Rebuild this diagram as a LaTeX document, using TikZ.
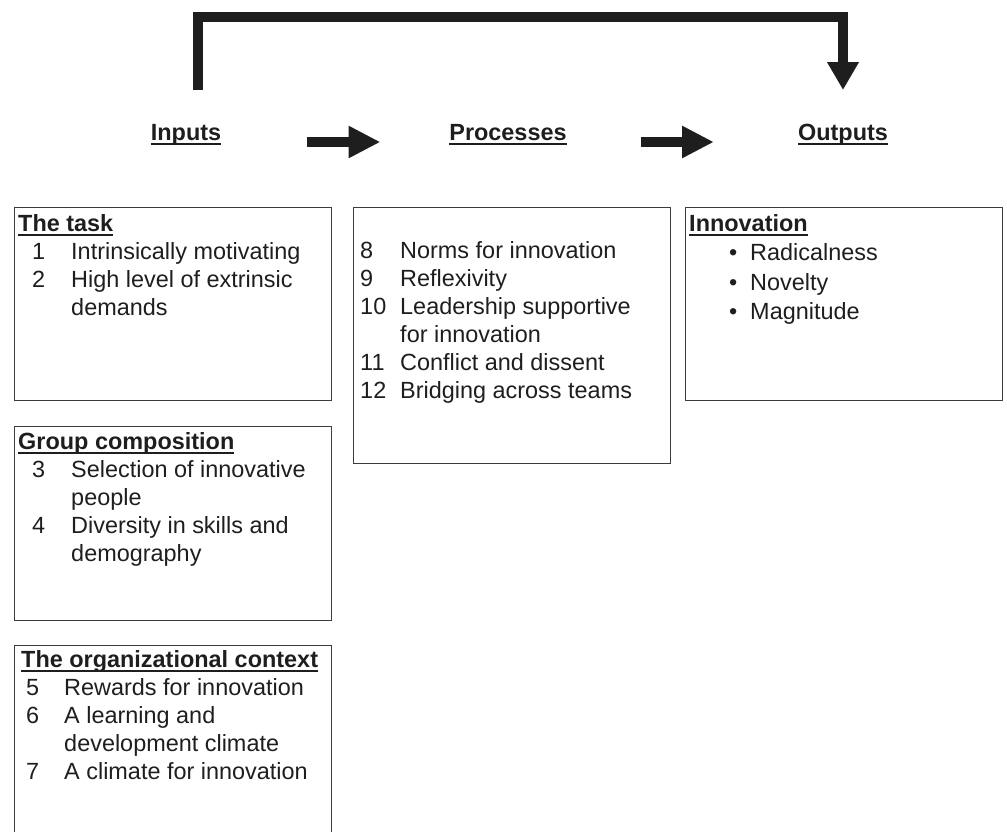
\documentclass[tikz,border=0pt]{standalone}
\usepackage{fontspec}
\setmainfont{Liberation Sans}
\usetikzlibrary{arrows.meta}
\definecolor{boxgray}{RGB}{60,60,60}
\definecolor{inkblack}{RGB}{30,30,30}
\newlength{\pxunit}
\setlength{\pxunit}{0.03cm}
% bold heading with a close underline
\newcommand{\headtext}[1]{\setbox0=\hbox{\bfseries #1}\rlap{\rule[-4.3pt]{\wd0}{1.9pt}}\box0}

\begin{document}
\begin{tikzpicture}[x=0.03cm, y=-0.03cm,
  box/.style={draw=boxgray, line width=1.2pt, anchor=north west, inner sep=0pt, minimum width=9.51cm},
  heading/.style={font=\fontsize{20}{24}\selectfont, text=inkblack, inner sep=0pt, anchor=base},
  itemlist/.style={font=\fontsize{20}{24}\selectfont, text=inkblack, inner sep=0pt, anchor=base west},
  flow/.style={draw=inkblack, line width=8.1pt, -{Triangle[length=27pt,width=25.6pt]}},
  feedback/.style={draw=inkblack, line width=8.1pt, line join=miter, -{Triangle[length=23.9pt,width=25.6pt]}}]

  \useasboundingbox (0,0) rectangle (1007,831);
  \clip (0,0) rectangle (1007,831);

  % headings
  \node[heading] (inputs) at (186,140) {\headtext{Inputs}};
  \node[heading] (processes) at (508,140) {\headtext{Processes}};
  \node[heading] (outputs) at (843,140) {\headtext{Outputs}};

  % arrows between headings
  \draw[flow] (inputs.base east) ++(86,2) -- ++(73,0);
  \draw[flow] (processes.base east) ++(74,2) -- ++(73,0);

  % feedback from inputs to outputs
  \coordinate (fbstart) at (198,90);
  \coordinate (fbend) at (843,90);
  \draw[feedback] (fbstart) -- ++(0,-73) -| (fbend);

  % input boxes
  \node[box, minimum height=5.79cm] (taskbox) at (14,207) {};
  \node[itemlist] (task) at (18,231) {
    \begin{tabular}[t]{@{\hspace{14\pxunit}}p{39\pxunit}@{}l@{}}
    \multicolumn{2}{@{}l@{}}{\headtext{The task}} \\
    1 & Intrinsically motivating \\
    2 & High level of extrinsic \\
      & demands
    \end{tabular}
  };

  \node[box, minimum height=5.82cm] (groupbox) at (14,426) {};
  \node[itemlist] (group) at (18,449) {
    \begin{tabular}[t]{@{\hspace{14\pxunit}}p{39\pxunit}@{}l@{}}
    \multicolumn{2}{@{}l@{}}{\headtext{Group composition}} \\
    3 & Selection of innovative \\
      & people \\
    4 & Diversity in skills and \\
      & demography
    \end{tabular}
  };

  \node[box, minimum height=7.65cm] (contextbox) at (14,645) {};
  \node[itemlist] (context) at (21,667) {
    \begin{tabular}[t]{@{\hspace{5\pxunit}}p{38\pxunit}@{}l@{}}
    \multicolumn{2}{@{}l@{}}{\headtext{The organizational context}} \\
    5 & Rewards for innovation \\
    6 & A learning and \\
      & development climate \\
    7 & A climate for innovation
    \end{tabular}
  };

  % process box
  \node[box, minimum height=7.68cm] (processbox) at (353,207) {};
  \node[itemlist] (process) at (360,258) {
    \begin{tabular}[t]{@{}p{40\pxunit}@{}l@{}}
    8 & Norms for innovation \\
    9 & Reflexivity \\
    10 & Leadership supportive \\
       & for innovation \\
    11 & Conflict and dissent \\
    12 & Bridging across teams
    \end{tabular}
  };

  % output box
  \node[box, minimum height=5.79cm] (outputbox) at (685,207) {};
  \node[itemlist] (output) at (689,231) {
    \renewcommand{\arraystretch}{1.05}%
    \begin{tabular}[t]{@{\hspace{40\pxunit}}p{21\pxunit}@{}l@{}}
    \multicolumn{2}{@{}l@{}}{\headtext{Innovation}} \\
    \textbullet & Radicalness \\
    \textbullet & Novelty \\
    \textbullet & Magnitude
    \end{tabular}
  };
\end{tikzpicture}
\end{document}
